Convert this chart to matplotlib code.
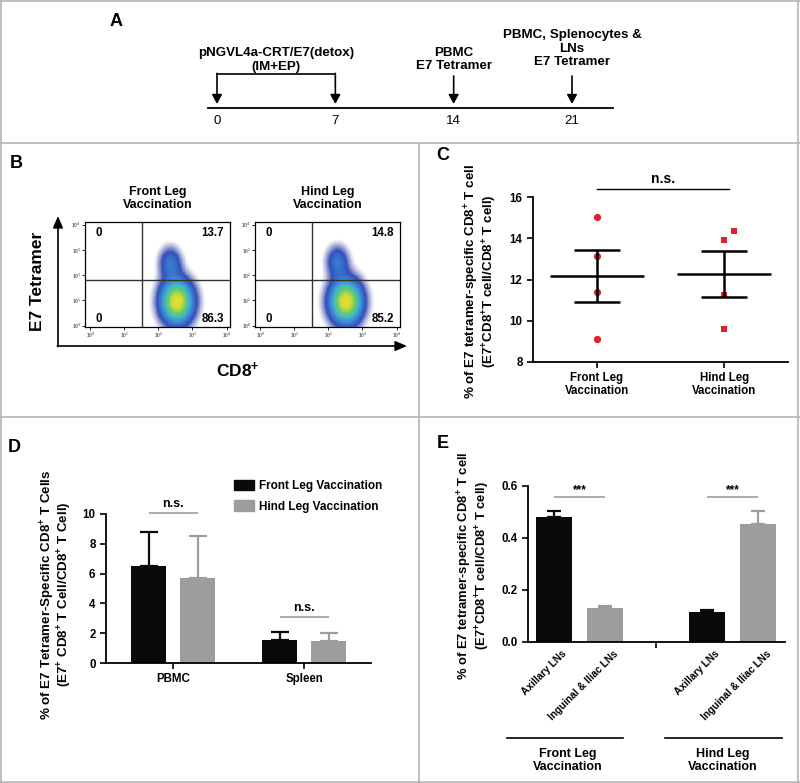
import numpy as np
import matplotlib
matplotlib.use("Agg")
import matplotlib.pyplot as plt
from matplotlib.colors import LinearSegmentedColormap
from matplotlib.patches import Patch

plt.rcParams['font.family'] = ['Liberation Sans', 'DejaVu Sans']
plt.rcParams['font.weight'] = 'bold'
plt.rcParams['axes.labelweight'] = 'bold'
plt.rcParams['axes.titleweight'] = 'bold'
plt.rcParams['mathtext.fontset'] = 'custom'
plt.rcParams['mathtext.rm'] = 'Liberation Sans:bold'
plt.rcParams['mathtext.bf'] = 'Liberation Sans:bold'
plt.rcParams['mathtext.it'] = 'Liberation Sans:bold'
plt.rcParams['mathtext.default'] = 'rm'
plt.rcParams['axes.linewidth'] = 1.3

# ---------------- data ----------------
# Panel A timeline
days = [0, 7, 14, 21]
# Panel B flow quadrant percentages
flow_titles = ["Front Leg\nVaccination", "Hind Leg\nVaccination"]
flow_upper_right = ["13.7", "14.8"]
flow_lower_right = ["86.3", "85.2"]
flow_left = ["0", "0"]
# cluster centres/spreads in decades (x = CD8, y = tetramer)
front_clusters_cx = [2.55, 2.35]
front_clusters_cy = [0.95, 2.5]
hind_clusters_cx = [2.5, 2.25]
hind_clusters_cy = [0.95, 2.55]
clusters_sx = [0.32, 0.22]
clusters_sy = [0.58, 0.42]
clusters_w = [1.0, 0.3]
# Panel C
c_groups = ["Front Leg\nVaccination", "Hind Leg\nVaccination"]
c_front = [15.05, 13.15, 11.4, 9.1]
c_hind = [14.35, 13.9, 11.25, 9.6]
c_hind_jitter = [0.08, 0.0, 0.0, 0.0]
# Panel D
d_groups = ["PBMC", "Spleen"]
d_front = [6.5, 1.55]
d_front_err = [2.3, 0.5]
d_hind = [5.7, 1.45]
d_hind_err = [2.85, 0.55]
# Panel E
e_labels = ["Axillary LNs", "Inguinal & Iliac LNs", "Axillary LNs", "Inguinal & Iliac LNs"]
e_vals = [0.482, 0.132, 0.117, 0.454]
e_err = [0.023, 0.008, 0.007, 0.05]
e_group_titles = ["Front Leg\nVaccination", "Hind Leg\nVaccination"]

BLACK = "#0a0a0a"
GRAY = "#9d9d9d"
RED = "#e0202a"

W, H = 800, 783
fig = plt.figure(figsize=(8.0, 7.83), dpi=100)


def px_axes(x0, y0, x1, y1, **kw):
    return fig.add_axes([x0 / W, 1 - y1 / H, (x1 - x0) / W, (y1 - y0) / H], **kw)


# ---------------- panel frames ----------------
frame = px_axes(0, 0, W, H)
frame.set_xlim(0, W)
frame.set_ylim(H, 0)
frame.axis('off')
fc = "#b4b4b4"
for seg in [((1, 1), (0, H)), ((W - 2, W - 2), (0, H)), ((0, W), (1, 1)), ((0, W), (H - 1.5, H - 1.5)),
            ((0, W), (143, 143)), ((0, W), (417, 417)), ((419, 419), (143, H))]:
    frame.plot(seg[0], seg[1], color=fc, lw=1.2, solid_capstyle='butt')

# ---------------- Panel A ----------------
pxday = (572 - 217) / 21.0
axA = px_axes(0, 0, W, 143)
axA.set_xlim(-217 / pxday, (W - 217) / pxday)
axA.set_ylim(143, 0)
axA.axis('off')
axA.plot([-0.53, 23.4], [108, 108], color='black', lw=1.3)
for d in days:
    axA.text(d, 121, str(d), ha='center', va='center', fontsize=9.5, fontweight='normal')
arrow_kw = dict(arrowstyle='-|>,head_width=0.3,head_length=0.55', color='black', lw=1.2, shrinkA=0, shrinkB=0)
axA.plot([days[0], days[1]], [74, 74], color='black', lw=1.2)
for d in days[:2]:
    axA.annotate('', xy=(d, 104), xytext=(d, 73.4), arrowprops=arrow_kw)
for d in days[2:]:
    axA.annotate('', xy=(d, 104), xytext=(d, 76), arrowprops=arrow_kw)
axA.text((days[0] + days[1]) / 2, 60, "pNGVL4a-CRT/E7(detox)\n(IM+EP)", ha='center', va='center',
         fontsize=9.6, linespacing=1.15)
axA.text(days[2], 59.5, "PBMC\nE7 Tetramer", ha='center', va='center', fontsize=9.6, linespacing=1.15)
axA.text(days[3], 48.5, "PBMC, Splenocytes &\nLNs\nE7 Tetramer", ha='center', va='center',
         fontsize=9.6, linespacing=1.15)
axA.text(-6.0, 22, "A", ha='center', va='center', fontsize=13)

# ---------------- Panel B ----------------
cmap = LinearSegmentedColormap.from_list(
    "flow", ["#2c2c95", "#3458c0", "#3f8fd6", "#41bcc0", "#6acb6a", "#c8dc3a", "#f2e030"])
gx = np.linspace(-0.15, 4.1, 220)
gy = np.linspace(-0.05, 4.1, 220)
GX, GY = np.meshgrid(gx, gy)
xmark = 1.53
ymark = 1.8
tick_labels = [r"$10^{%d}$" % i for i in range(5)]


def flow_panel(x0, x1, cxs, cys, title, ur, lr, left):
    ax = px_axes(x0, 222, x1, 327)
    dens = np.zeros_like(GX)
    for cx, cy, sx, sy, w in zip(cxs, cys, clusters_sx, clusters_sy, clusters_w):
        dens += w * np.exp(-((GX - cx) ** 2 / (2 * sx ** 2) + (GY - cy) ** 2 / (2 * sy ** 2)))
    rgba = cmap(np.clip(dens / 1.05, 0, 1) ** 1.1)
    rgba[..., 3] = np.clip((dens - 0.03) / 0.15, 0, 1)
    ax.imshow(rgba, extent=[gx[0], gx[-1], gy[0], gy[-1]], origin='lower', aspect='auto',
              interpolation='nearest')
    ax.set_xlim(-0.15, 4.1)
    ax.set_ylim(-0.05, 4.1)
    ax.axvline(xmark, color='#333333', lw=1.0)
    ax.axhline(ymark, color='#333333', lw=1.0)
    for s in ax.spines.values():
        s.set_linewidth(0.9)
    ax.set_xticks(range(5))
    ax.set_yticks(range(5))
    ax.set_xticklabels(tick_labels, fontsize=3.5, color='#666666')
    ax.set_yticklabels(tick_labels, fontsize=3.5, color='#666666')
    ax.tick_params(length=2, width=0.6, pad=1)
    ax.text(0.07, 0.9, left, transform=ax.transAxes, fontsize=8.3, ha='left', va='center')
    ax.text(0.07, 0.08, left, transform=ax.transAxes, fontsize=8.3, ha='left', va='center')
    ax.text(0.96, 0.9, ur, transform=ax.transAxes, fontsize=8.3, ha='right', va='center')
    ax.text(0.96, 0.08, lr, transform=ax.transAxes, fontsize=8.3, ha='right', va='center')
    ax.set_title(title, fontsize=9, pad=10, linespacing=1.1)
    return ax


flow_panel(85, 230, front_clusters_cx, front_clusters_cy, flow_titles[0], flow_upper_right[0],
           flow_lower_right[0], flow_left[0])
flow_panel(255, 400, hind_clusters_cx, hind_clusters_cy, flow_titles[1], flow_upper_right[1],
           flow_lower_right[1], flow_left[1])
frame.annotate('', xy=(58, 216), xytext=(58, 346.5),
               arrowprops=dict(arrowstyle='-|>,head_width=0.3,head_length=0.7', color='black', lw=1.2,
                               shrinkA=0, shrinkB=0))
frame.annotate('', xy=(407, 346), xytext=(57.4, 346),
               arrowprops=dict(arrowstyle='-|>,head_width=0.3,head_length=0.7', color='black', lw=1.2,
                               shrinkA=0, shrinkB=0))
frame.text(38, 281, "E7 Tetramer", rotation=90, ha='center', va='center', fontsize=12.5)
frame.text(238, 370, "CD8$^{+}$", ha='center', va='center', fontsize=12.5)
frame.text(16, 164, "B", ha='center', va='center', fontsize=13)

# ---------------- Panel C ----------------
axC = px_axes(533, 197, 788, 362)
xc = np.arange(len(c_groups))
for i, (vals, mk) in enumerate([(c_front, 'o'), (c_hind, 's')]):
    vals = np.array(vals)
    jit = np.array(c_hind_jitter) if i == 1 else np.zeros(len(vals))
    axC.plot(xc[i] + jit, vals, linestyle='none', marker=mk, color=RED, markersize=5.2 if mk == 'o' else 5,
             markeredgewidth=0, zorder=2)
    m = vals.mean()
    sem = vals.std(ddof=1) / np.sqrt(len(vals))
    axC.hlines(m, xc[i] - 0.37, xc[i] + 0.37, color='black', lw=1.8, zorder=3)
    axC.hlines([m - sem, m + sem], xc[i] - 0.18, xc[i] + 0.18, color='black', lw=1.8, zorder=3)
    axC.vlines(xc[i], m - sem, m + sem, color='black', lw=1.8, zorder=3)
axC.set_xlim(-0.5, 1.5)
axC.set_ylim(8, 16)
axC.set_yticks([8, 10, 12, 14, 16])
axC.set_xticks(xc)
axC.set_xticklabels(c_groups, fontsize=8.3, linespacing=1.1)
axC.tick_params(axis='both', labelsize=8.3, length=4, width=1.2)
axC.spines['top'].set_visible(False)
axC.spines['right'].set_visible(False)
axC.plot([0.0, 1.04], [1.05, 1.05], transform=axC.get_xaxis_transform(), color='black', lw=1.0,
         clip_on=False)
axC.text(0.52, 1.065, "n.s.", transform=axC.get_xaxis_transform(), ha='center', va='bottom', fontsize=10)
axC.set_ylabel("% of E7 tetramer-specific CD8$^{+}$ T cell\n(E7$^{+}$CD8$^{+}$T cell/CD8$^{+}$ T cell)",
               fontsize=9.6, linespacing=0.95)
axC.yaxis.set_label_coords(-0.135, 0.49)
frame.text(443, 155, "C", ha='center', va='center', fontsize=13)

# ---------------- Panel D ----------------
axD = px_axes(106, 514, 371, 663)
xd = np.arange(len(d_groups))
bw = 0.267
off = 0.187
axD.bar(xd - off, d_front, bw, color=BLACK, zorder=2)
axD.bar(xd + off, d_hind, bw, color=GRAY, zorder=2)
axD.errorbar(xd - off, d_front, yerr=[np.zeros(len(d_front)), d_front_err], fmt='none', ecolor=BLACK,
             elinewidth=1.6, capsize=6.5, capthick=1.6, zorder=1)
axD.errorbar(xd + off, d_hind, yerr=[np.zeros(len(d_hind)), d_hind_err], fmt='none', ecolor=GRAY,
             elinewidth=1.6, capsize=6.5, capthick=1.6, zorder=1)
axD.set_xlim(-0.515, 1.51)
axD.set_ylim(0, 10)
axD.set_yticks([0, 2, 4, 6, 8, 10])
axD.set_xticks(xd)
axD.set_xticklabels(d_groups, fontsize=8.3)
axD.tick_params(axis='both', labelsize=8.3, length=4, width=1.2)
axD.spines['top'].set_visible(False)
axD.spines['right'].set_visible(False)
axD.hlines(10.1, -off, off, color=GRAY, lw=1.2, clip_on=False)
axD.text(0, 10.3, "n.s.", ha='center', va='bottom', fontsize=9, clip_on=False)
axD.hlines(3.1, 1 - off, 1 + off, color=GRAY, lw=1.2)
axD.text(1, 3.3, "n.s.", ha='center', va='bottom', fontsize=9)
axD.legend(handles=[Patch(color=BLACK), Patch(color=GRAY)],
           labels=["Front Leg Vaccination", "Hind Leg Vaccination"],
           loc='upper left', bbox_to_anchor=(0.46, 1.27), frameon=False, fontsize=8.5,
           handlelength=1.7, handleheight=1.0, handletextpad=0.4, labelspacing=0.7, borderpad=0)
axD.set_ylabel("% of E7 Tetramer-Specific CD8$^{+}$ T Cells\n(E7$^{+}$ CD8$^{+}$ T Cell/CD8$^{+}$ T Cell)",
               fontsize=9.6, linespacing=0.95)
axD.yaxis.set_label_coords(-0.12, 0.46)
frame.text(14, 447, "D", ha='center', va='center', fontsize=13)

# ---------------- Panel E ----------------
axE = px_axes(528, 486, 785, 642)
xe = np.array([0, 1, 3, 4])
ecol = [BLACK, GRAY, BLACK, GRAY]
axE.bar(xe, e_vals, 0.69, color=ecol, zorder=2)
for x, v, e, c in zip(xe, e_vals, e_err, ecol):
    axE.errorbar([x], [v], yerr=[[0], [e]], fmt='none', ecolor=c, elinewidth=1.6, capsize=5,
                 capthick=1.6, zorder=1)
axE.set_xlim(-0.51, 4.53)
axE.set_ylim(0, 0.6)
axE.set_yticks([0.0, 0.2, 0.4, 0.6])
axE.set_yticklabels(["0.0", "0.2", "0.4", "0.6"])
axE.set_xticks([2])
axE.set_xticklabels([""])
axE.tick_params(axis='both', labelsize=8.3, length=4, width=1.2)
axE.spines['top'].set_visible(False)
axE.spines['right'].set_visible(False)
for x, lab in zip(xe, e_labels):
    axE.text(x + 0.15, -0.025, lab, rotation=45, ha='right', va='top', fontsize=7.3,
             rotation_mode='anchor', transform=axE.transData)
axE.hlines(0.558, xe[0], xe[1], color=GRAY, lw=1.2)
axE.text((xe[0] + xe[1]) / 2, 0.56, "***", ha='center', va='bottom', fontsize=8.5)
axE.hlines(0.558, xe[2], xe[3], color=GRAY, lw=1.2)
axE.text((xe[2] + xe[3]) / 2, 0.56, "***", ha='center', va='bottom', fontsize=8.5)
group_spans = [(-0.92, 1.35), (2.18, 4.47)]
group_centres = [0.27, 3.31]
for g, (a, b) in enumerate(group_spans):
    axE.plot([a, b], [-0.369, -0.369], color='black', lw=1.2, clip_on=False)
    axE.text(group_centres[g], -0.455, e_group_titles[g], ha='center', va='center', fontsize=9,
             linespacing=1.1, clip_on=False)
axE.set_ylabel("% of E7 tetramer-specific CD8$^{+}$ T cell\n(E7$^{+}$CD8$^{+}$T cell/CD8$^{+}$ T cell)",
               fontsize=9.4, linespacing=0.95)
axE.yaxis.set_label_coords(-0.14, 0.49)
frame.text(443, 443, "E", ha='center', va='center', fontsize=13)

fig.savefig("out.png", dpi=100)
